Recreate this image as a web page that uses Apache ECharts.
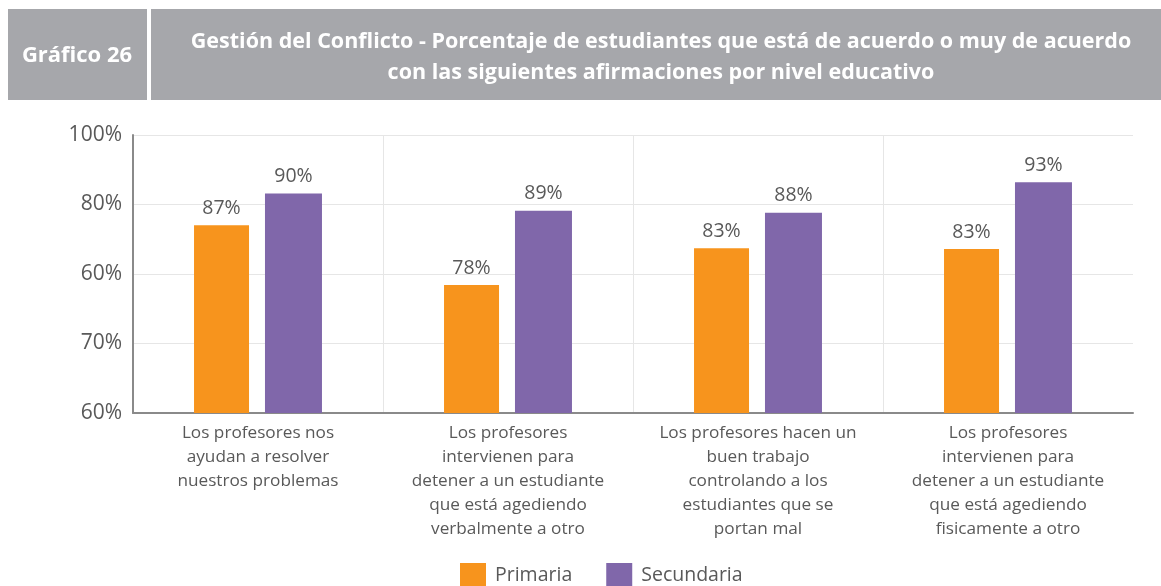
<!DOCTYPE html>
<html>
<head>
<meta charset="utf-8">
<script src="https://cdn.jsdelivr.net/npm/echarts@6/dist/echarts.min.js"></script>
<style>
  html, body { margin: 0; padding: 0; background: #fff; }
  #chart { width: 1161px; height: 586px; }
</style>
</head>
<body>
<div id="chart"></div>
<script>
// datos del gráfico
var categorias = [
  "Los profesores nos\nayudan a resolver\nnuestros problemas",
  "Los profesores\nintervienen para\ndetener a un estudiante\nque está agediendo\nverbalmente a otro",
  "Los profesores hacen un\nbuen trabajo\ncontrolando a los\nestudiantes que se\nportan mal",
  "Los profesores\nintervienen para\ndetener a un estudiante\nque está agediendo\nfisicamente a otro"
];
// altura de las barras
var primaria = [87.0, 78.4, 83.7, 83.6];
var secundaria = [91.6, 89.1, 88.8, 93.2];
// etiquetas de datos impresas sobre las barras
var etiquetasPrimaria = ["87%", "78%", "83%", "83%"];
var etiquetasSecundaria = ["90%", "89%", "88%", "93%"];
// etiquetas del eje tal como aparecen en el original
var etiquetasEje = ["60%", "70%", "60%", "80%", "100%"];

var textoGris = "#595959";
var fondoCabecera = "#A6A7AB";
var rejilla = "#e6e6e6";

var myChart = echarts.init(document.getElementById("chart"));
var option = {
  animation: false,
  textStyle: { fontFamily: "Open Sans" },
  graphic: [
    { type: "rect", shape: { x: 8, y: 9, width: 139, height: 91 }, style: { fill: fondoCabecera } },
    { type: "rect", shape: { x: 151, y: 9, width: 1010, height: 91 }, style: { fill: fondoCabecera } },
    {
      type: "text", x: 77, y: 56,
      style: {
        text: "Gráfico 26", fill: "#fff", font: "bold 22px 'Open Sans'",
        align: "center", verticalAlign: "middle"
      }
    },
    {
      type: "text", x: 661, y: 57,
      style: {
        text: "Gestión del Conflicto - Porcentaje de estudiantes que está de acuerdo o muy de acuerdo\ncon las siguientes afirmaciones por nivel educativo",
        fill: "#fff", font: "bold 21.5px 'Open Sans'", lineHeight: 31,
        align: "center", verticalAlign: "middle"
      }
    }
  ],
  legend: {
    data: ["Primaria", "Secundaria"],
    left: 460,
    top: 563,
    padding: 0,
    itemWidth: 26,
    itemHeight: 24,
    itemGap: 34,
    icon: "rect",
    textStyle: { color: textoGris, fontSize: 19.5, fontFamily: "Open Sans", padding: [0, 0, 0, 4] }
  },
  grid: { left: 133, right: 28, top: 135, bottom: 173 },
  xAxis: {
    type: "category",
    data: categorias,
    axisLine: { lineStyle: { color: "#8a8a8a", width: 2 } },
    axisTick: { show: false },
    // sin línea vertical en el borde derecho
    splitLine: { show: true, lineStyle: { color: [rejilla, rejilla, rejilla, rejilla, "rgba(0,0,0,0)"] } },
    axisLabel: {
      color: textoGris, fontSize: 17.2, lineHeight: 24, interval: 0,
      margin: 8, fontFamily: "Open Sans"
    }
  },
  yAxis: {
    type: "value",
    min: 60,
    max: 100,
    interval: 10,
    axisLine: { show: true, lineStyle: { color: "#8a8a8a", width: 2 } },
    axisTick: { show: false },
    splitLine: { lineStyle: { color: rejilla } },
    axisLabel: {
      color: textoGris, fontSize: 21, margin: 11, fontFamily: "Open Sans",
      formatter: function (v) { return etiquetasEje[Math.round((v - 60) / 10)]; }
    }
  },
  series: [
    {
      name: "Primaria",
      type: "bar",
      data: primaria,
      barWidth: 55,
      barGap: "29%",
      itemStyle: { color: "#F7941D" },
      label: {
        show: true, position: "top", distance: 7, color: textoGris, fontSize: 19.5,
        formatter: function (p) { return etiquetasPrimaria[p.dataIndex]; }
      }
    },
    {
      name: "Secundaria",
      type: "bar",
      data: secundaria,
      barWidth: 57,
      itemStyle: { color: "#8067AA" },
      label: {
        show: true, position: "top", distance: 7, color: textoGris, fontSize: 19.5,
        formatter: function (p) { return etiquetasSecundaria[p.dataIndex]; }
      }
    }
  ]
};
option && myChart.setOption(option);
</script>
</body>
</html>
